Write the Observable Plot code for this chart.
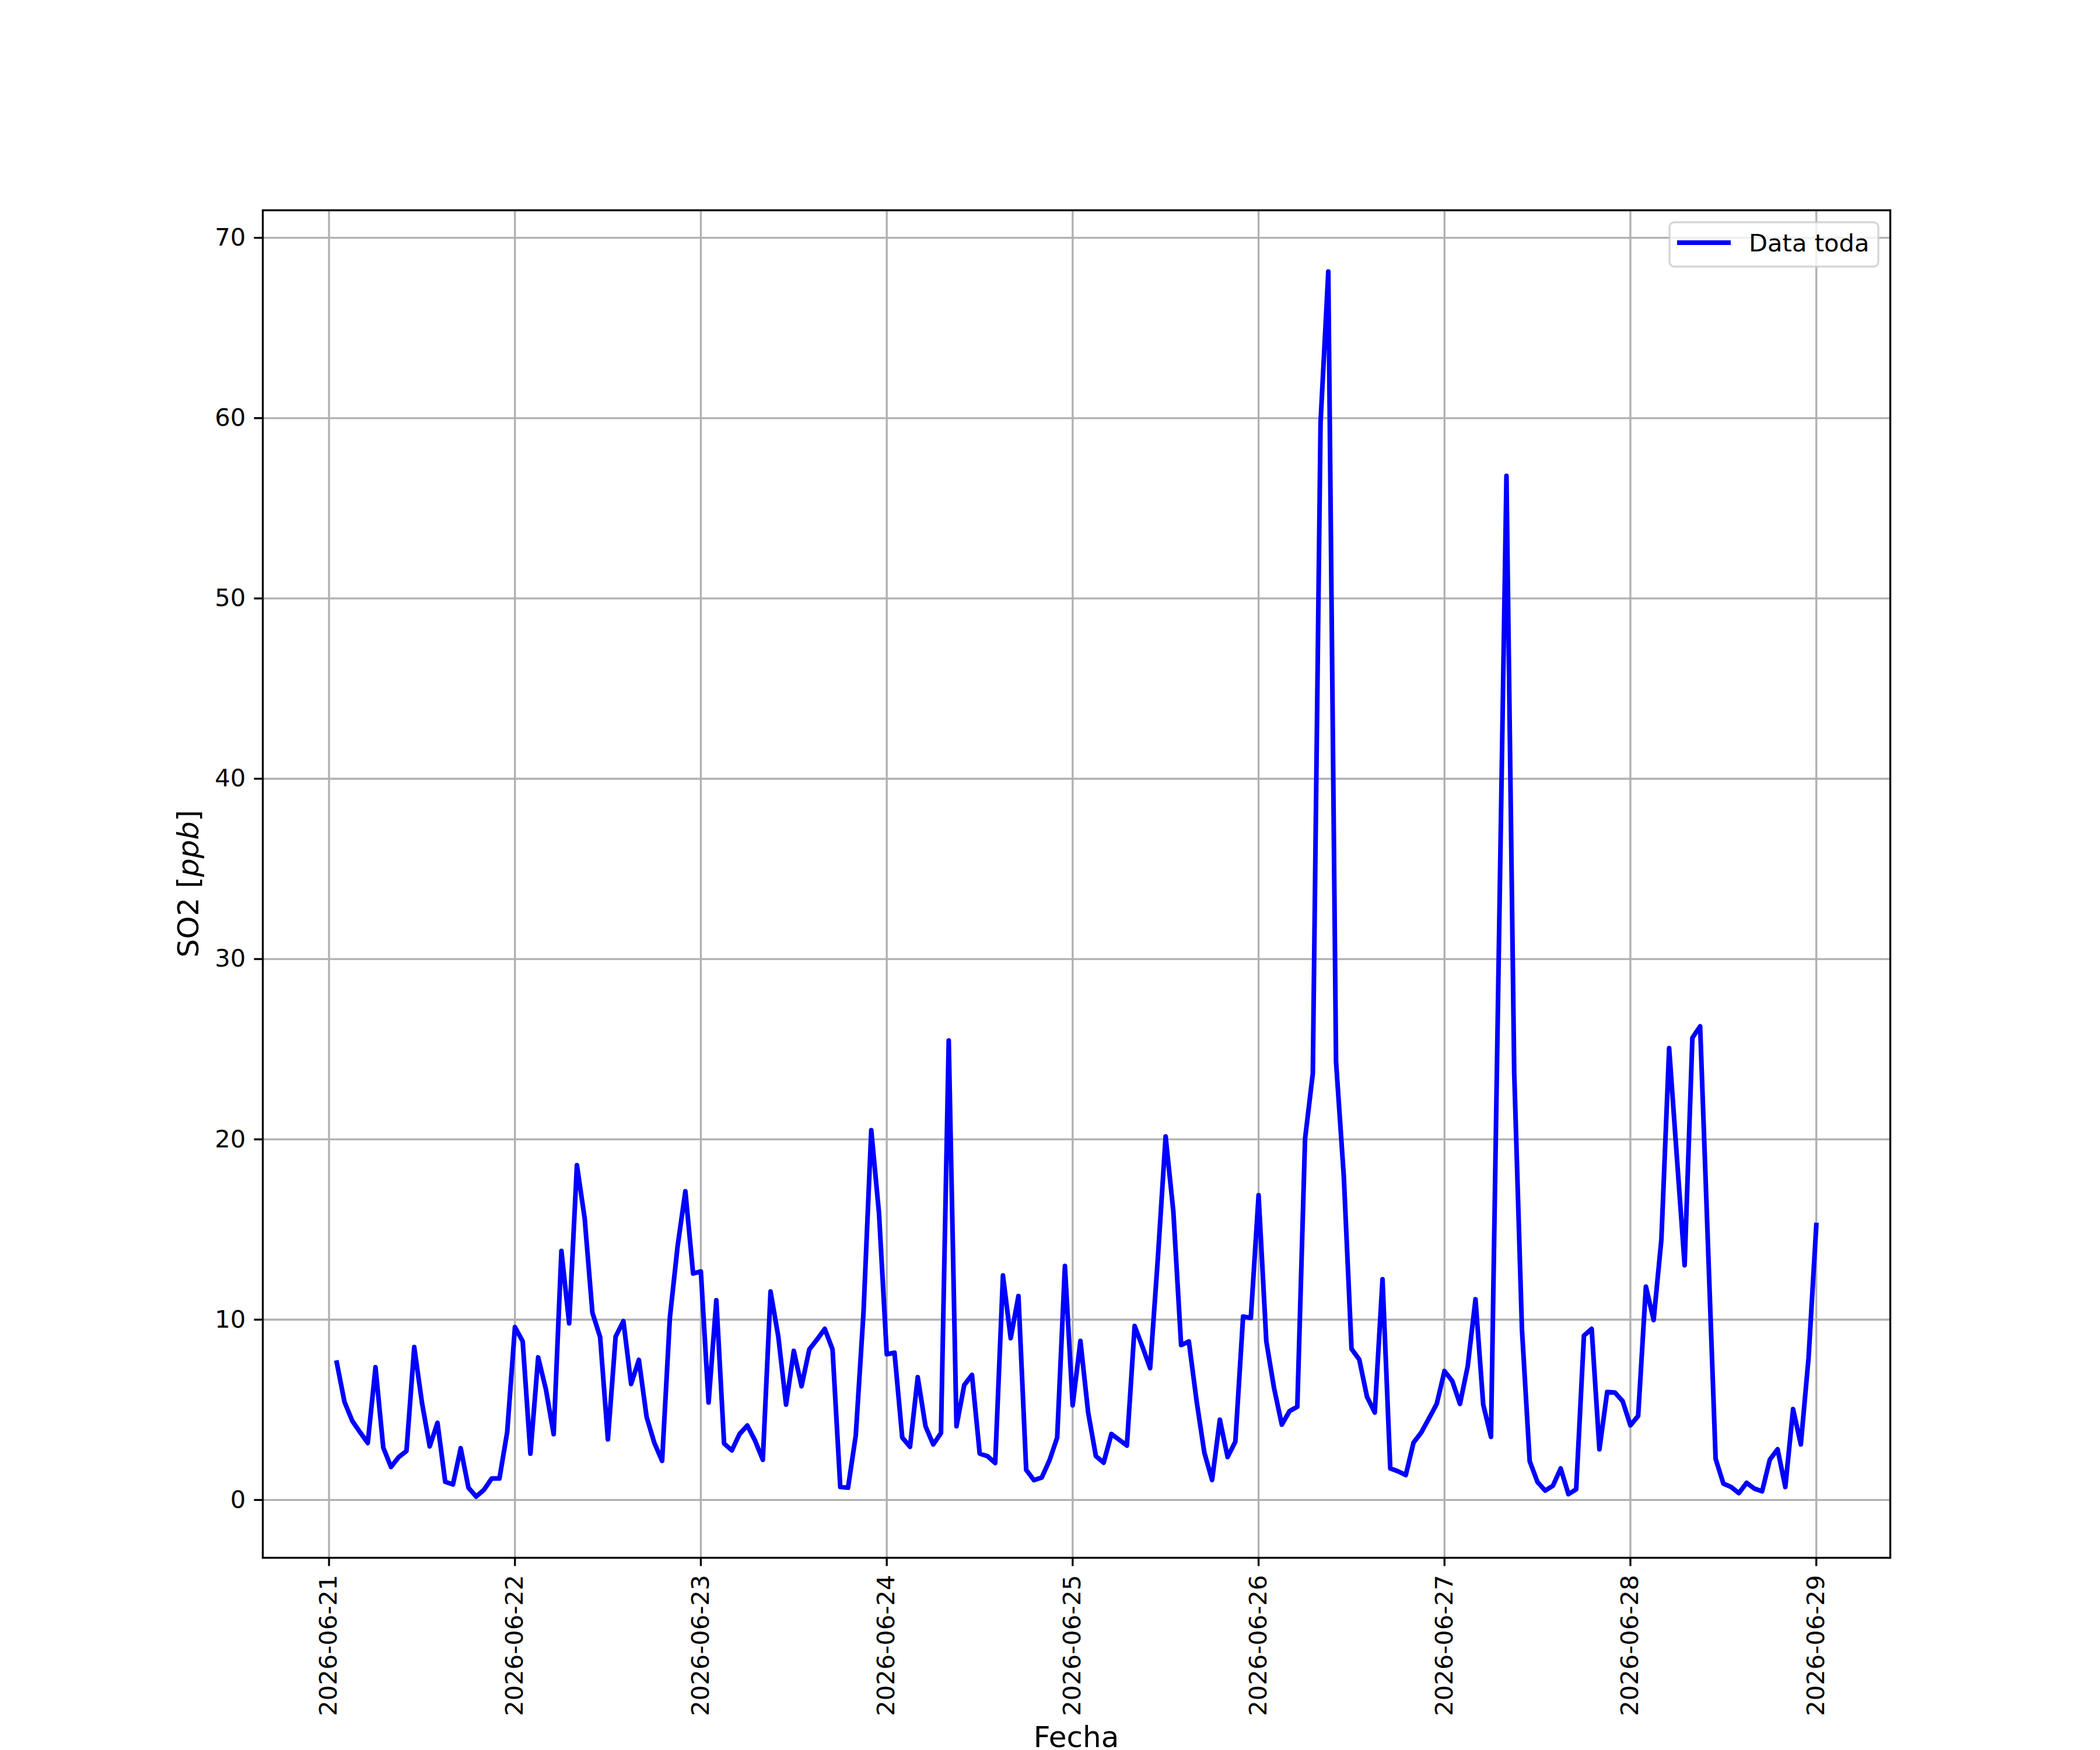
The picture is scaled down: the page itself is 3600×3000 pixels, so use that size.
<!DOCTYPE html>
<html>
<head>
<meta charset="utf-8">
<script src="https://cdn.jsdelivr.net/npm/d3@7"></script>
<script src="https://cdn.jsdelivr.net/npm/@observablehq/plot@0.6"></script>
<style>
  html, body { margin: 0; padding: 0; background: #ffffff; }
  #chart { width: 3600px; height: 3000px; }
</style>
</head>
<body>
<div id="chart"></div>
<script>
// Hourly SO2 values [ppb].
// 2026-06-21: hours 01..23
const day21 = [7.62, 5.43, 4.39, 3.76, 3.16, 7.36, 2.91, 1.83, 2.38, 2.72, 8.48, 5.39,
               2.97, 4.28, 1.01, 0.86, 2.87, 0.68, 0.19, 0.56, 1.19, 1.19, 3.76];
// 2026-06-22 .. 2026-06-28: hours 00..23
const day22 = [9.59, 8.80, 2.57, 7.91, 6.13, 3.65, 13.81, 9.80, 18.57, 15.63, 10.39, 9.03,
               3.36, 9.06, 9.92, 6.43, 7.77, 4.60, 3.16, 2.17, 10.10, 14.08, 17.12, 12.56];
const day23 = [12.67, 5.41, 11.08, 3.13, 2.75, 3.66, 4.13, 3.29, 2.23, 11.56, 9.06, 5.29,
               8.27, 6.31, 8.35, 8.90, 9.49, 8.35, 0.72, 0.68, 3.58, 10.41, 20.51, 15.90];
const day24 = [8.08, 8.17, 3.46, 2.95, 6.81, 4.09, 3.08, 3.71, 25.48, 4.09, 6.37, 6.94,
               2.57, 2.43, 2.05, 12.45, 8.97, 11.31, 1.67, 1.10, 1.24, 2.19, 3.46, 12.98];
const day25 = [5.25, 8.82, 4.85, 2.43, 2.07, 3.66, 3.34, 3.02, 9.65, 8.51, 7.31, 13.43,
               20.16, 15.98, 8.59, 8.79, 5.48, 2.62, 1.11, 4.45, 2.38, 3.23, 10.17, 10.10];
const day26 = [16.90, 8.79, 6.20, 4.18, 4.93, 5.17, 20.03, 23.65, 59.75, 68.13, 24.30, 17.96,
               8.38, 7.79, 5.72, 4.85, 12.24, 1.75, 1.59, 1.38, 3.18, 3.74, 4.53, 5.33];
const day27 = [7.15, 6.60, 5.33, 7.42, 11.13, 5.29, 3.50, 30.10, 56.80, 23.70, 9.46, 2.15,
               1.00, 0.52, 0.79, 1.75, 0.32, 0.59, 9.11, 9.49, 2.81, 5.99, 5.96, 5.48];
const day28 = [4.14, 4.66, 11.83, 9.98, 14.45, 25.06, 19.00, 13.02, 25.63, 26.27, 14.30, 2.28,
               0.91, 0.72, 0.38, 0.95, 0.63, 0.48, 2.24, 2.81, 0.72, 5.04, 3.08, 7.89];
// 2026-06-29: hour 00
const day29 = [15.25];

const seriesName = "Data toda";
const yLabelMain = "SO2 [";
const yLabelUnit = "ppb";
const yLabelEnd = "]";
const xLabel = "Fecha";
const yTicks = [0, 10, 20, 30, 40, 50, 60, 70];
const xTickLabels = ["2026-06-21", "2026-06-22", "2026-06-23", "2026-06-24", "2026-06-25",
                     "2026-06-26", "2026-06-27", "2026-06-28", "2026-06-29"];

// Build the table: [day of month, first hour, values]
const days = [[21, 1, day21], [22, 0, day22], [23, 0, day23], [24, 0, day24], [25, 0, day25],
              [26, 0, day26], [27, 0, day27], [28, 0, day28], [29, 0, day29]];
const data = [];
for (const [d, h0, vals] of days) {
  vals.forEach((v, i) => data.push({date: new Date(Date.UTC(2026, 5, d, h0 + i)), so2: v}));
}
const xTicks = xTickLabels.map(s => new Date(s + "T00:00:00Z"));

// matplotlib-like 5% margins
const [t0, t1] = d3.extent(data, d => +d.date);
const [v0, v1] = d3.extent(data, d => d.so2);
const xDomain = [new Date(t0 - 0.05 * (t1 - t0)), new Date(t1 + 0.05 * (t1 - t0))];
const yDomain = [v0 - 0.05 * (v1 - v0), v1 + 0.05 * (v1 - v0)];

const FONT = "DejaVu Sans";
const LW = 3.33;

const svg = Plot.plot({
  width: 3600,
  height: 3000,
  marginLeft: 450,
  marginRight: 360,
  marginTop: 360,
  marginBottom: 330,
  style: {fontFamily: FONT, fontSize: "41.67px", background: "#ffffff", color: "#000000", overflow: "visible"},
  x: {type: "utc", domain: xDomain},
  y: {domain: yDomain},
  marks: [
    Plot.gridX(xTicks, {stroke: "#b0b0b0", strokeOpacity: 1, strokeWidth: LW}),
    Plot.gridY(yTicks, {stroke: "#b0b0b0", strokeOpacity: 1, strokeWidth: LW}),
    Plot.line(data, {x: "date", y: "so2", stroke: "#0000ff", strokeWidth: 8,
                     strokeLinejoin: "round", strokeLinecap: "square"}),
    Plot.frame({stroke: "#000000", strokeWidth: LW}),
    Plot.axisX(xTicks, {
      tickFormat: d3.utcFormat("%Y-%m-%d"),
      tickRotate: -90, tickSize: 14.6, tickPadding: 14.6,
      strokeWidth: LW, fontSize: 41.67, label: null
    }),
    Plot.axisY(yTicks, {
      tickFormat: d => String(d), tickSize: 14.6, tickPadding: 14.6,
      strokeWidth: LW, fontSize: 41.67, label: null
    })
  ]
});

const s = d3.select(svg);

// Y axis label (rotated, with italic unit)
const yl = s.append("text")
  .attr("transform", "translate(340,1515) rotate(-90)")
  .attr("text-anchor", "middle")
  .attr("font-family", FONT)
  .attr("font-size", 50)
  .attr("fill", "#000");
yl.append("tspan").text(yLabelMain);
yl.append("tspan").attr("font-style", "italic").text(yLabelUnit);
yl.append("tspan").text(yLabelEnd);

// X axis label
s.append("text")
  .attr("x", 1845).attr("y", 2995)
  .attr("text-anchor", "middle")
  .attr("font-family", FONT)
  .attr("font-size", 50)
  .attr("fill", "#000")
  .text(xLabel);

// Legend (top right inside axes)
const lg = s.append("g");
lg.append("rect")
  .attr("x", 2862).attr("y", 381).attr("width", 358).attr("height", 76)
  .attr("rx", 8.3).attr("ry", 8.3)
  .attr("fill", "#ffffff").attr("fill-opacity", 0.8)
  .attr("stroke", "#cccccc").attr("stroke-opacity", 0.8).attr("stroke-width", LW);
lg.append("line")
  .attr("x1", 2879).attr("x2", 2963).attr("y1", 416).attr("y2", 416)
  .attr("stroke", "#0000ff").attr("stroke-width", 8).attr("stroke-linecap", "square");
lg.append("text")
  .attr("x", 2998).attr("y", 431)
  .attr("text-anchor", "start")
  .attr("font-family", FONT).attr("font-size", 41.67).attr("fill", "#000")
  .text(seriesName);

document.getElementById("chart").appendChild(svg);
</script>
</body>
</html>
